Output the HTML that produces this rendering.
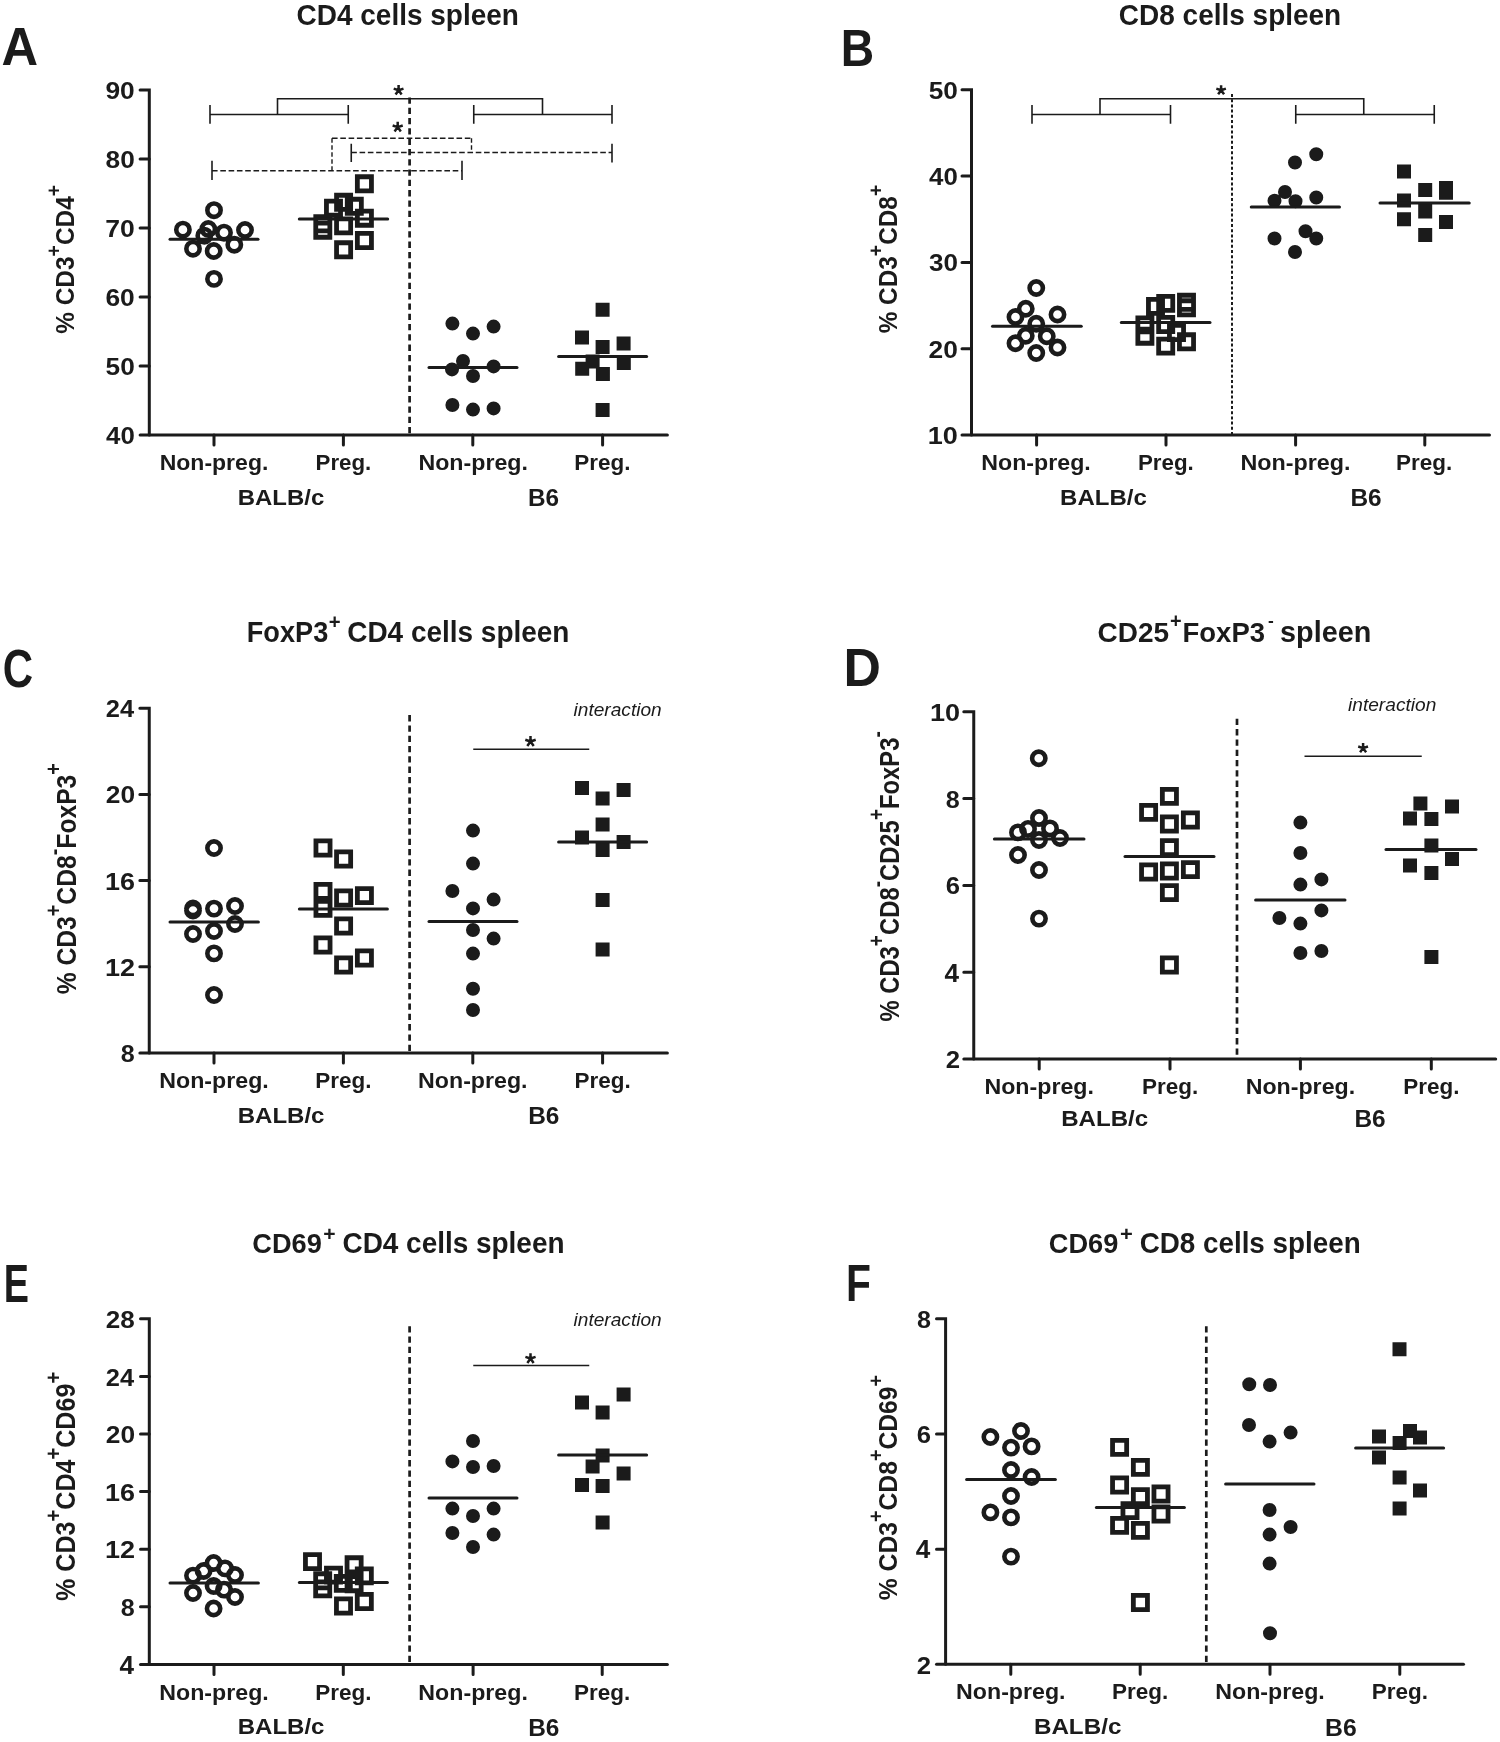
<!DOCTYPE html>
<html><head><meta charset="utf-8"><title>figure</title>
<style>
html,body{margin:0;padding:0;background:#fff;}
svg{display:block;will-change:transform;}
text{font-family:"Liberation Sans",sans-serif;font-kerning:none;}
</style></head>
<body>
<svg width="1500" height="1742" viewBox="0 0 1500 1742">
<rect width="1500" height="1742" fill="#fff"/>
<line x1="409.60" y1="97.40" x2="409.60" y2="435.10" stroke="#1b1b1b" stroke-width="2.70" stroke-linecap="butt" stroke-dasharray="6.3 4.0"/>
<line x1="1232.00" y1="94.00" x2="1232.00" y2="435.00" stroke="#1b1b1b" stroke-width="2.00" stroke-linecap="butt" stroke-dasharray="3 2.2"/>
<line x1="409.60" y1="715.10" x2="409.60" y2="1053.00" stroke="#1b1b1b" stroke-width="2.70" stroke-linecap="butt" stroke-dasharray="6.3 4.0"/>
<line x1="1237.00" y1="718.80" x2="1237.00" y2="1059.10" stroke="#1b1b1b" stroke-width="2.70" stroke-linecap="butt" stroke-dasharray="6.3 4.0"/>
<line x1="409.60" y1="1326.20" x2="409.60" y2="1664.40" stroke="#1b1b1b" stroke-width="2.70" stroke-linecap="butt" stroke-dasharray="6.3 4.0"/>
<line x1="1206.30" y1="1326.20" x2="1206.30" y2="1664.30" stroke="#1b1b1b" stroke-width="2.70" stroke-linecap="butt" stroke-dasharray="6.3 4.0"/>
<path d="M140.10 90.00H149.30V435.10" fill="none" stroke="#1b1b1b" stroke-width="3.00" stroke-linecap="round" stroke-linejoin="miter"/>
<path d="M140.10 435.10H667.40" fill="none" stroke="#1b1b1b" stroke-width="3.00" stroke-linecap="round"/>
<path d="M140.10 159.02H149.30M140.10 228.04H149.30M140.10 297.06H149.30M140.10 366.08H149.30M214.00 435.10V445.10M343.40 435.10V445.10M472.80 435.10V445.10M602.60 435.10V445.10" fill="none" stroke="#1b1b1b" stroke-width="3.00" stroke-linecap="round"/>
<path d="M207.35 210.20a6.65 6.65 0 1 0 13.30 0a6.65 6.65 0 1 0 -13.30 0ZM176.25 229.70a6.65 6.65 0 1 0 13.30 0a6.65 6.65 0 1 0 -13.30 0ZM201.65 229.00a6.65 6.65 0 1 0 13.30 0a6.65 6.65 0 1 0 -13.30 0ZM197.65 235.70a6.65 6.65 0 1 0 13.30 0a6.65 6.65 0 1 0 -13.30 0ZM217.35 232.70a6.65 6.65 0 1 0 13.30 0a6.65 6.65 0 1 0 -13.30 0ZM238.35 230.00a6.65 6.65 0 1 0 13.30 0a6.65 6.65 0 1 0 -13.30 0ZM186.35 248.70a6.65 6.65 0 1 0 13.30 0a6.65 6.65 0 1 0 -13.30 0ZM207.05 251.00a6.65 6.65 0 1 0 13.30 0a6.65 6.65 0 1 0 -13.30 0ZM227.65 244.70a6.65 6.65 0 1 0 13.30 0a6.65 6.65 0 1 0 -13.30 0ZM207.35 278.90a6.65 6.65 0 1 0 13.30 0a6.65 6.65 0 1 0 -13.30 0Z" fill="none" stroke="#1b1b1b" stroke-width="4.60"/>
<path d="M357.35 176.75h14.10v14.10h-14.10ZM326.45 201.15h14.10v14.10h-14.10ZM336.55 195.25h14.10v14.10h-14.10ZM347.25 199.25h14.10v14.10h-14.10ZM357.35 211.15h14.10v14.10h-14.10ZM336.55 218.85h14.10v14.10h-14.10ZM315.75 216.75h14.10v14.10h-14.10ZM315.75 223.15h14.10v14.10h-14.10ZM357.35 233.45h14.10v14.10h-14.10ZM336.55 242.75h14.10v14.10h-14.10Z" fill="none" stroke="#1b1b1b" stroke-width="4.80" stroke-linejoin="miter"/>
<path d="M445.40 323.60a7.00 7.00 0 1 0 14.00 0a7.00 7.00 0 1 0 -14.00 0ZM466.00 333.60a7.00 7.00 0 1 0 14.00 0a7.00 7.00 0 1 0 -14.00 0ZM486.60 326.60a7.00 7.00 0 1 0 14.00 0a7.00 7.00 0 1 0 -14.00 0ZM456.00 361.00a7.00 7.00 0 1 0 14.00 0a7.00 7.00 0 1 0 -14.00 0ZM445.00 369.40a7.00 7.00 0 1 0 14.00 0a7.00 7.00 0 1 0 -14.00 0ZM486.60 366.40a7.00 7.00 0 1 0 14.00 0a7.00 7.00 0 1 0 -14.00 0ZM466.00 376.00a7.00 7.00 0 1 0 14.00 0a7.00 7.00 0 1 0 -14.00 0ZM445.40 405.00a7.00 7.00 0 1 0 14.00 0a7.00 7.00 0 1 0 -14.00 0ZM466.00 409.60a7.00 7.00 0 1 0 14.00 0a7.00 7.00 0 1 0 -14.00 0ZM486.60 408.40a7.00 7.00 0 1 0 14.00 0a7.00 7.00 0 1 0 -14.00 0Z" fill="#1b1b1b"/>
<path d="M595.60 302.80h14.00v14.00h-14.00ZM575.00 330.40h14.00v14.00h-14.00ZM595.60 340.00h14.00v14.00h-14.00ZM616.60 336.60h14.00v14.00h-14.00ZM585.60 354.60h14.00v14.00h-14.00ZM575.20 361.70h14.00v14.00h-14.00ZM595.90 367.00h14.00v14.00h-14.00ZM616.80 356.10h14.00v14.00h-14.00ZM595.60 403.00h14.00v14.00h-14.00Z" fill="#1b1b1b"/>
<line x1="170.00" y1="239.30" x2="258.00" y2="239.30" stroke="#1b1b1b" stroke-width="3.00" stroke-linecap="round"/>
<line x1="299.30" y1="219.10" x2="387.70" y2="219.10" stroke="#1b1b1b" stroke-width="3.00" stroke-linecap="round"/>
<line x1="429.00" y1="367.60" x2="517.00" y2="367.60" stroke="#1b1b1b" stroke-width="3.00" stroke-linecap="round"/>
<line x1="558.60" y1="356.60" x2="646.60" y2="356.60" stroke="#1b1b1b" stroke-width="3.00" stroke-linecap="round"/>
<text transform="translate(106.40,99.01) scale(1.0778,1)" x="-0.85" y="0" font-size="24.43" font-weight="bold" font-style="normal" fill="#1b1b1b">90</text>
<text transform="translate(106.40,168.03) scale(1.0748,1)" x="-0.78" y="0" font-size="24.43" font-weight="bold" font-style="normal" fill="#1b1b1b">80</text>
<text transform="translate(106.40,237.05) scale(1.0865,1)" x="-1.05" y="0" font-size="24.43" font-weight="bold" font-style="normal" fill="#1b1b1b">70</text>
<text transform="translate(106.40,306.07) scale(1.0798,1)" x="-0.89" y="0" font-size="24.43" font-weight="bold" font-style="normal" fill="#1b1b1b">60</text>
<text transform="translate(106.40,375.09) scale(1.0737,1)" x="-0.75" y="0" font-size="24.43" font-weight="bold" font-style="normal" fill="#1b1b1b">50</text>
<text transform="translate(106.40,444.11) scale(1.0579,1)" x="-0.37" y="0" font-size="24.43" font-weight="bold" font-style="normal" fill="#1b1b1b">40</text>
<path d="M962.00 89.80H971.50V435.00" fill="none" stroke="#1b1b1b" stroke-width="3.00" stroke-linecap="round" stroke-linejoin="miter"/>
<path d="M962.00 435.00H1489.50" fill="none" stroke="#1b1b1b" stroke-width="3.00" stroke-linecap="round"/>
<path d="M962.00 176.10H971.50M962.00 262.40H971.50M962.00 348.70H971.50M1036.60 435.00V445.00M1166.00 435.00V445.00M1295.60 435.00V445.00M1424.80 435.00V445.00" fill="none" stroke="#1b1b1b" stroke-width="3.00" stroke-linecap="round"/>
<path d="M1029.60 288.00a6.65 6.65 0 1 0 13.30 0a6.65 6.65 0 1 0 -13.30 0ZM1019.10 308.75a6.65 6.65 0 1 0 13.30 0a6.65 6.65 0 1 0 -13.30 0ZM1008.85 317.00a6.65 6.65 0 1 0 13.30 0a6.65 6.65 0 1 0 -13.30 0ZM1050.85 314.50a6.65 6.65 0 1 0 13.30 0a6.65 6.65 0 1 0 -13.30 0ZM1029.60 323.75a6.65 6.65 0 1 0 13.30 0a6.65 6.65 0 1 0 -13.30 0ZM1019.10 335.75a6.65 6.65 0 1 0 13.30 0a6.65 6.65 0 1 0 -13.30 0ZM1040.10 336.25a6.65 6.65 0 1 0 13.30 0a6.65 6.65 0 1 0 -13.30 0ZM1008.85 343.25a6.65 6.65 0 1 0 13.30 0a6.65 6.65 0 1 0 -13.30 0ZM1050.85 347.50a6.65 6.65 0 1 0 13.30 0a6.65 6.65 0 1 0 -13.30 0ZM1029.60 353.00a6.65 6.65 0 1 0 13.30 0a6.65 6.65 0 1 0 -13.30 0Z" fill="none" stroke="#1b1b1b" stroke-width="4.60"/>
<path d="M1179.45 295.25h14.10v14.10h-14.10ZM1179.45 300.75h14.10v14.10h-14.10ZM1158.65 296.35h14.10v14.10h-14.10ZM1148.45 299.35h14.10v14.10h-14.10ZM1137.85 317.85h14.10v14.10h-14.10ZM1137.85 329.15h14.10v14.10h-14.10ZM1158.65 317.45h14.10v14.10h-14.10ZM1169.45 325.45h14.10v14.10h-14.10ZM1158.65 339.05h14.10v14.10h-14.10ZM1179.45 334.75h14.10v14.10h-14.10Z" fill="none" stroke="#1b1b1b" stroke-width="4.80" stroke-linejoin="miter"/>
<path d="M1309.25 154.25a7.00 7.00 0 1 0 14.00 0a7.00 7.00 0 1 0 -14.00 0ZM1288.00 162.50a7.00 7.00 0 1 0 14.00 0a7.00 7.00 0 1 0 -14.00 0ZM1278.00 192.00a7.00 7.00 0 1 0 14.00 0a7.00 7.00 0 1 0 -14.00 0ZM1267.50 200.75a7.00 7.00 0 1 0 14.00 0a7.00 7.00 0 1 0 -14.00 0ZM1288.50 201.25a7.00 7.00 0 1 0 14.00 0a7.00 7.00 0 1 0 -14.00 0ZM1309.25 197.50a7.00 7.00 0 1 0 14.00 0a7.00 7.00 0 1 0 -14.00 0ZM1267.50 238.50a7.00 7.00 0 1 0 14.00 0a7.00 7.00 0 1 0 -14.00 0ZM1298.50 231.25a7.00 7.00 0 1 0 14.00 0a7.00 7.00 0 1 0 -14.00 0ZM1309.25 238.50a7.00 7.00 0 1 0 14.00 0a7.00 7.00 0 1 0 -14.00 0ZM1288.00 252.00a7.00 7.00 0 1 0 14.00 0a7.00 7.00 0 1 0 -14.00 0Z" fill="#1b1b1b"/>
<path d="M1397.00 164.60h14.00v14.00h-14.00ZM1418.20 183.10h14.00v14.00h-14.00ZM1439.00 181.10h14.00v14.00h-14.00ZM1439.00 185.70h14.00v14.00h-14.00ZM1397.00 193.60h14.00v14.00h-14.00ZM1418.20 202.80h14.00v14.00h-14.00ZM1418.20 204.50h14.00v14.00h-14.00ZM1397.00 212.20h14.00v14.00h-14.00ZM1439.00 215.00h14.00v14.00h-14.00ZM1418.20 228.10h14.00v14.00h-14.00Z" fill="#1b1b1b"/>
<line x1="992.50" y1="326.25" x2="1081.25" y2="326.25" stroke="#1b1b1b" stroke-width="3.00" stroke-linecap="round"/>
<line x1="1121.30" y1="322.60" x2="1210.00" y2="322.60" stroke="#1b1b1b" stroke-width="3.00" stroke-linecap="round"/>
<line x1="1251.25" y1="207.00" x2="1339.50" y2="207.00" stroke="#1b1b1b" stroke-width="3.00" stroke-linecap="round"/>
<line x1="1380.00" y1="203.10" x2="1469.25" y2="203.10" stroke="#1b1b1b" stroke-width="3.00" stroke-linecap="round"/>
<text transform="translate(929.50,98.81) scale(1.0737,1)" x="-0.75" y="0" font-size="24.43" font-weight="bold" font-style="normal" fill="#1b1b1b">50</text>
<text transform="translate(929.50,185.11) scale(1.0579,1)" x="-0.37" y="0" font-size="24.43" font-weight="bold" font-style="normal" fill="#1b1b1b">40</text>
<text transform="translate(929.50,271.38) scale(1.0679,1)" x="-0.56" y="0" font-size="24.38" font-weight="bold" font-style="normal" fill="#1b1b1b">30</text>
<text transform="translate(929.50,357.71) scale(1.0778,1)" x="-0.85" y="0" font-size="24.43" font-weight="bold" font-style="normal" fill="#1b1b1b">20</text>
<text transform="translate(929.50,444.01) scale(1.1081,1)" x="-1.54" y="0" font-size="24.43" font-weight="bold" font-style="normal" fill="#1b1b1b">10</text>
<path d="M139.85 708.20H149.25V1053.00" fill="none" stroke="#1b1b1b" stroke-width="3.00" stroke-linecap="round" stroke-linejoin="miter"/>
<path d="M139.85 1053.00H667.40" fill="none" stroke="#1b1b1b" stroke-width="3.00" stroke-linecap="round"/>
<path d="M139.85 794.40H149.25M139.85 880.60H149.25M139.85 966.80H149.25M214.00 1053.00V1063.00M343.40 1053.00V1063.00M472.80 1053.00V1063.00M602.60 1053.00V1063.00" fill="none" stroke="#1b1b1b" stroke-width="3.00" stroke-linecap="round"/>
<path d="M207.35 848.00a6.65 6.65 0 1 0 13.30 0a6.65 6.65 0 1 0 -13.30 0ZM186.35 908.50a6.65 6.65 0 1 0 13.30 0a6.65 6.65 0 1 0 -13.30 0ZM186.35 910.50a6.65 6.65 0 1 0 13.30 0a6.65 6.65 0 1 0 -13.30 0ZM207.35 908.60a6.65 6.65 0 1 0 13.30 0a6.65 6.65 0 1 0 -13.30 0ZM228.35 906.00a6.65 6.65 0 1 0 13.30 0a6.65 6.65 0 1 0 -13.30 0ZM228.35 924.00a6.65 6.65 0 1 0 13.30 0a6.65 6.65 0 1 0 -13.30 0ZM186.35 934.00a6.65 6.65 0 1 0 13.30 0a6.65 6.65 0 1 0 -13.30 0ZM207.35 931.00a6.65 6.65 0 1 0 13.30 0a6.65 6.65 0 1 0 -13.30 0ZM207.35 953.40a6.65 6.65 0 1 0 13.30 0a6.65 6.65 0 1 0 -13.30 0ZM207.35 995.00a6.65 6.65 0 1 0 13.30 0a6.65 6.65 0 1 0 -13.30 0Z" fill="none" stroke="#1b1b1b" stroke-width="4.60"/>
<path d="M315.95 840.95h14.10v14.10h-14.10ZM336.55 851.95h14.10v14.10h-14.10ZM315.95 884.35h14.10v14.10h-14.10ZM315.95 901.35h14.10v14.10h-14.10ZM336.55 890.95h14.10v14.10h-14.10ZM357.35 888.55h14.10v14.10h-14.10ZM336.55 918.95h14.10v14.10h-14.10ZM315.95 937.95h14.10v14.10h-14.10ZM336.55 957.95h14.10v14.10h-14.10ZM357.35 950.95h14.10v14.10h-14.10Z" fill="none" stroke="#1b1b1b" stroke-width="4.80" stroke-linejoin="miter"/>
<path d="M466.00 830.60a7.00 7.00 0 1 0 14.00 0a7.00 7.00 0 1 0 -14.00 0ZM466.00 863.60a7.00 7.00 0 1 0 14.00 0a7.00 7.00 0 1 0 -14.00 0ZM445.40 891.00a7.00 7.00 0 1 0 14.00 0a7.00 7.00 0 1 0 -14.00 0ZM486.60 899.60a7.00 7.00 0 1 0 14.00 0a7.00 7.00 0 1 0 -14.00 0ZM466.00 908.40a7.00 7.00 0 1 0 14.00 0a7.00 7.00 0 1 0 -14.00 0ZM466.00 930.00a7.00 7.00 0 1 0 14.00 0a7.00 7.00 0 1 0 -14.00 0ZM486.60 938.60a7.00 7.00 0 1 0 14.00 0a7.00 7.00 0 1 0 -14.00 0ZM466.00 953.60a7.00 7.00 0 1 0 14.00 0a7.00 7.00 0 1 0 -14.00 0ZM466.00 988.80a7.00 7.00 0 1 0 14.00 0a7.00 7.00 0 1 0 -14.00 0ZM466.00 1010.00a7.00 7.00 0 1 0 14.00 0a7.00 7.00 0 1 0 -14.00 0Z" fill="#1b1b1b"/>
<path d="M575.00 781.00h14.00v14.00h-14.00ZM595.60 791.60h14.00v14.00h-14.00ZM616.60 783.00h14.00v14.00h-14.00ZM595.60 817.40h14.00v14.00h-14.00ZM575.00 830.60h14.00v14.00h-14.00ZM616.60 835.00h14.00v14.00h-14.00ZM595.60 843.00h14.00v14.00h-14.00ZM595.60 893.00h14.00v14.00h-14.00ZM595.60 942.60h14.00v14.00h-14.00Z" fill="#1b1b1b"/>
<line x1="170.00" y1="922.00" x2="258.40" y2="922.00" stroke="#1b1b1b" stroke-width="3.00" stroke-linecap="round"/>
<line x1="299.40" y1="909.00" x2="387.40" y2="909.00" stroke="#1b1b1b" stroke-width="3.00" stroke-linecap="round"/>
<line x1="429.00" y1="921.40" x2="517.00" y2="921.40" stroke="#1b1b1b" stroke-width="3.00" stroke-linecap="round"/>
<line x1="558.60" y1="842.00" x2="646.60" y2="842.00" stroke="#1b1b1b" stroke-width="3.00" stroke-linecap="round"/>
<text transform="translate(106.70,717.45) scale(1.0276,1)" x="-0.86" y="0" font-size="24.78" font-weight="bold" font-style="normal" fill="#1b1b1b">24</text>
<text transform="translate(106.70,803.41) scale(1.0778,1)" x="-0.85" y="0" font-size="24.43" font-weight="bold" font-style="normal" fill="#1b1b1b">20</text>
<text transform="translate(106.70,889.61) scale(1.1027,1)" x="-1.54" y="0" font-size="24.43" font-weight="bold" font-style="normal" fill="#1b1b1b">16</text>
<text transform="translate(106.70,976.05) scale(1.0917,1)" x="-1.56" y="0" font-size="24.78" font-weight="bold" font-style="normal" fill="#1b1b1b">12</text>
<text transform="translate(121.60,1062.01) scale(1.0280,1)" x="-0.78" y="0" font-size="24.43" font-weight="bold" font-style="normal" fill="#1b1b1b">8</text>
<path d="M963.80 711.80H973.75V1059.10" fill="none" stroke="#1b1b1b" stroke-width="3.00" stroke-linecap="round" stroke-linejoin="miter"/>
<path d="M963.80 1059.10H1495.70" fill="none" stroke="#1b1b1b" stroke-width="3.00" stroke-linecap="round"/>
<path d="M963.80 798.62H973.75M963.80 885.45H973.75M963.80 972.27H973.75M1039.20 1059.10V1069.10M1170.00 1059.10V1069.10M1300.40 1059.10V1069.10M1431.30 1059.10V1069.10" fill="none" stroke="#1b1b1b" stroke-width="3.00" stroke-linecap="round"/>
<path d="M1032.10 758.25a6.65 6.65 0 1 0 13.30 0a6.65 6.65 0 1 0 -13.30 0ZM1032.35 818.00a6.65 6.65 0 1 0 13.30 0a6.65 6.65 0 1 0 -13.30 0ZM1011.35 832.40a6.65 6.65 0 1 0 13.30 0a6.65 6.65 0 1 0 -13.30 0ZM1021.35 829.00a6.65 6.65 0 1 0 13.30 0a6.65 6.65 0 1 0 -13.30 0ZM1043.35 828.40a6.65 6.65 0 1 0 13.30 0a6.65 6.65 0 1 0 -13.30 0ZM1032.35 840.00a6.65 6.65 0 1 0 13.30 0a6.65 6.65 0 1 0 -13.30 0ZM1053.35 838.00a6.65 6.65 0 1 0 13.30 0a6.65 6.65 0 1 0 -13.30 0ZM1011.35 855.00a6.65 6.65 0 1 0 13.30 0a6.65 6.65 0 1 0 -13.30 0ZM1032.35 870.00a6.65 6.65 0 1 0 13.30 0a6.65 6.65 0 1 0 -13.30 0ZM1032.35 918.60a6.65 6.65 0 1 0 13.30 0a6.65 6.65 0 1 0 -13.30 0Z" fill="none" stroke="#1b1b1b" stroke-width="4.60"/>
<path d="M1162.35 789.35h14.10v14.10h-14.10ZM1141.55 805.35h14.10v14.10h-14.10ZM1162.35 816.95h14.10v14.10h-14.10ZM1183.35 812.95h14.10v14.10h-14.10ZM1162.35 840.55h14.10v14.10h-14.10ZM1141.55 864.95h14.10v14.10h-14.10ZM1162.35 863.95h14.10v14.10h-14.10ZM1183.35 862.55h14.10v14.10h-14.10ZM1162.35 885.55h14.10v14.10h-14.10ZM1162.35 957.95h14.10v14.10h-14.10Z" fill="none" stroke="#1b1b1b" stroke-width="4.80" stroke-linejoin="miter"/>
<path d="M1293.40 822.60a7.00 7.00 0 1 0 14.00 0a7.00 7.00 0 1 0 -14.00 0ZM1293.40 853.00a7.00 7.00 0 1 0 14.00 0a7.00 7.00 0 1 0 -14.00 0ZM1293.40 884.60a7.00 7.00 0 1 0 14.00 0a7.00 7.00 0 1 0 -14.00 0ZM1314.40 879.40a7.00 7.00 0 1 0 14.00 0a7.00 7.00 0 1 0 -14.00 0ZM1272.40 918.00a7.00 7.00 0 1 0 14.00 0a7.00 7.00 0 1 0 -14.00 0ZM1293.40 923.60a7.00 7.00 0 1 0 14.00 0a7.00 7.00 0 1 0 -14.00 0ZM1314.40 910.40a7.00 7.00 0 1 0 14.00 0a7.00 7.00 0 1 0 -14.00 0ZM1293.40 953.00a7.00 7.00 0 1 0 14.00 0a7.00 7.00 0 1 0 -14.00 0ZM1314.40 951.00a7.00 7.00 0 1 0 14.00 0a7.00 7.00 0 1 0 -14.00 0Z" fill="#1b1b1b"/>
<path d="M1413.40 796.40h14.00v14.00h-14.00ZM1445.00 799.40h14.00v14.00h-14.00ZM1403.00 811.40h14.00v14.00h-14.00ZM1424.40 812.00h14.00v14.00h-14.00ZM1424.40 838.60h14.00v14.00h-14.00ZM1403.00 858.60h14.00v14.00h-14.00ZM1445.00 852.00h14.00v14.00h-14.00ZM1424.40 866.00h14.00v14.00h-14.00ZM1424.40 950.00h14.00v14.00h-14.00Z" fill="#1b1b1b"/>
<line x1="994.40" y1="839.00" x2="1084.00" y2="839.00" stroke="#1b1b1b" stroke-width="3.00" stroke-linecap="round"/>
<line x1="1125.00" y1="856.60" x2="1214.00" y2="856.60" stroke="#1b1b1b" stroke-width="3.00" stroke-linecap="round"/>
<line x1="1255.60" y1="900.00" x2="1345.00" y2="900.00" stroke="#1b1b1b" stroke-width="3.00" stroke-linecap="round"/>
<line x1="1386.00" y1="849.40" x2="1476.00" y2="849.40" stroke="#1b1b1b" stroke-width="3.00" stroke-linecap="round"/>
<text transform="translate(931.70,720.81) scale(1.1081,1)" x="-1.54" y="0" font-size="24.43" font-weight="bold" font-style="normal" fill="#1b1b1b">10</text>
<text transform="translate(946.60,807.63) scale(1.0280,1)" x="-0.78" y="0" font-size="24.43" font-weight="bold" font-style="normal" fill="#1b1b1b">8</text>
<text transform="translate(946.60,894.46) scale(1.0498,1)" x="-0.89" y="0" font-size="24.43" font-weight="bold" font-style="normal" fill="#1b1b1b">6</text>
<text transform="translate(945.00,981.52) scale(1.0394,1)" x="-0.38" y="0" font-size="25.15" font-weight="bold" font-style="normal" fill="#1b1b1b">4</text>
<text transform="translate(946.60,1068.35) scale(1.0395,1)" x="-0.86" y="0" font-size="24.78" font-weight="bold" font-style="normal" fill="#1b1b1b">2</text>
<path d="M140.50 1318.80H149.30V1664.40" fill="none" stroke="#1b1b1b" stroke-width="3.00" stroke-linecap="round" stroke-linejoin="miter"/>
<path d="M140.50 1664.40H667.40" fill="none" stroke="#1b1b1b" stroke-width="3.00" stroke-linecap="round"/>
<path d="M140.50 1376.40H149.30M140.50 1434.00H149.30M140.50 1491.60H149.30M140.50 1549.20H149.30M140.50 1606.80H149.30M214.00 1664.40V1674.40M343.30 1664.40V1674.40M473.10 1664.40V1674.40M602.20 1664.40V1674.40" fill="none" stroke="#1b1b1b" stroke-width="3.00" stroke-linecap="round"/>
<path d="M206.95 1563.00a6.65 6.65 0 1 0 13.30 0a6.65 6.65 0 1 0 -13.30 0ZM196.95 1571.00a6.65 6.65 0 1 0 13.30 0a6.65 6.65 0 1 0 -13.30 0ZM186.35 1575.60a6.65 6.65 0 1 0 13.30 0a6.65 6.65 0 1 0 -13.30 0ZM218.35 1568.40a6.65 6.65 0 1 0 13.30 0a6.65 6.65 0 1 0 -13.30 0ZM228.35 1575.00a6.65 6.65 0 1 0 13.30 0a6.65 6.65 0 1 0 -13.30 0ZM206.95 1586.00a6.65 6.65 0 1 0 13.30 0a6.65 6.65 0 1 0 -13.30 0ZM217.35 1589.60a6.65 6.65 0 1 0 13.30 0a6.65 6.65 0 1 0 -13.30 0ZM186.35 1593.00a6.65 6.65 0 1 0 13.30 0a6.65 6.65 0 1 0 -13.30 0ZM228.35 1597.00a6.65 6.65 0 1 0 13.30 0a6.65 6.65 0 1 0 -13.30 0ZM206.95 1608.50a6.65 6.65 0 1 0 13.30 0a6.65 6.65 0 1 0 -13.30 0Z" fill="none" stroke="#1b1b1b" stroke-width="4.60"/>
<path d="M305.45 1554.55h14.10v14.10h-14.10ZM347.05 1557.75h14.10v14.10h-14.10ZM326.45 1568.05h14.10v14.10h-14.10ZM357.25 1568.85h14.10v14.10h-14.10ZM315.65 1573.75h14.10v14.10h-14.10ZM315.65 1581.85h14.10v14.10h-14.10ZM336.25 1576.35h14.10v14.10h-14.10ZM347.05 1576.65h14.10v14.10h-14.10ZM357.25 1594.45h14.10v14.10h-14.10ZM336.45 1598.95h14.10v14.10h-14.10Z" fill="none" stroke="#1b1b1b" stroke-width="4.80" stroke-linejoin="miter"/>
<path d="M466.00 1441.00a7.00 7.00 0 1 0 14.00 0a7.00 7.00 0 1 0 -14.00 0ZM445.40 1461.40a7.00 7.00 0 1 0 14.00 0a7.00 7.00 0 1 0 -14.00 0ZM466.00 1467.00a7.00 7.00 0 1 0 14.00 0a7.00 7.00 0 1 0 -14.00 0ZM486.60 1466.00a7.00 7.00 0 1 0 14.00 0a7.00 7.00 0 1 0 -14.00 0ZM445.40 1508.60a7.00 7.00 0 1 0 14.00 0a7.00 7.00 0 1 0 -14.00 0ZM466.00 1516.00a7.00 7.00 0 1 0 14.00 0a7.00 7.00 0 1 0 -14.00 0ZM486.60 1508.60a7.00 7.00 0 1 0 14.00 0a7.00 7.00 0 1 0 -14.00 0ZM445.40 1533.00a7.00 7.00 0 1 0 14.00 0a7.00 7.00 0 1 0 -14.00 0ZM486.60 1534.60a7.00 7.00 0 1 0 14.00 0a7.00 7.00 0 1 0 -14.00 0ZM466.00 1547.00a7.00 7.00 0 1 0 14.00 0a7.00 7.00 0 1 0 -14.00 0Z" fill="#1b1b1b"/>
<path d="M616.60 1387.40h14.00v14.00h-14.00ZM575.00 1395.40h14.00v14.00h-14.00ZM595.60 1405.60h14.00v14.00h-14.00ZM595.60 1448.60h14.00v14.00h-14.00ZM585.60 1459.40h14.00v14.00h-14.00ZM616.60 1466.40h14.00v14.00h-14.00ZM575.00 1478.00h14.00v14.00h-14.00ZM595.60 1479.00h14.00v14.00h-14.00ZM595.60 1515.40h14.00v14.00h-14.00Z" fill="#1b1b1b"/>
<line x1="170.00" y1="1583.00" x2="258.40" y2="1583.00" stroke="#1b1b1b" stroke-width="3.00" stroke-linecap="round"/>
<line x1="299.40" y1="1582.50" x2="387.40" y2="1582.50" stroke="#1b1b1b" stroke-width="3.00" stroke-linecap="round"/>
<line x1="429.00" y1="1498.00" x2="517.00" y2="1498.00" stroke="#1b1b1b" stroke-width="3.00" stroke-linecap="round"/>
<line x1="558.60" y1="1455.00" x2="646.60" y2="1455.00" stroke="#1b1b1b" stroke-width="3.00" stroke-linecap="round"/>
<text transform="translate(106.70,1327.81) scale(1.0672,1)" x="-0.85" y="0" font-size="24.43" font-weight="bold" font-style="normal" fill="#1b1b1b">28</text>
<text transform="translate(106.70,1385.65) scale(1.0276,1)" x="-0.86" y="0" font-size="24.78" font-weight="bold" font-style="normal" fill="#1b1b1b">24</text>
<text transform="translate(106.70,1443.01) scale(1.0778,1)" x="-0.85" y="0" font-size="24.43" font-weight="bold" font-style="normal" fill="#1b1b1b">20</text>
<text transform="translate(106.70,1500.61) scale(1.1027,1)" x="-1.54" y="0" font-size="24.43" font-weight="bold" font-style="normal" fill="#1b1b1b">16</text>
<text transform="translate(106.70,1558.45) scale(1.0917,1)" x="-1.56" y="0" font-size="24.78" font-weight="bold" font-style="normal" fill="#1b1b1b">12</text>
<text transform="translate(121.60,1615.81) scale(1.0280,1)" x="-0.78" y="0" font-size="24.43" font-weight="bold" font-style="normal" fill="#1b1b1b">8</text>
<text transform="translate(120.00,1673.65) scale(1.0394,1)" x="-0.38" y="0" font-size="25.15" font-weight="bold" font-style="normal" fill="#1b1b1b">4</text>
<path d="M936.50 1318.80H945.60V1664.30" fill="none" stroke="#1b1b1b" stroke-width="3.00" stroke-linecap="round" stroke-linejoin="miter"/>
<path d="M936.50 1664.30H1463.50" fill="none" stroke="#1b1b1b" stroke-width="3.00" stroke-linecap="round"/>
<path d="M936.50 1433.97H945.60M936.50 1549.13H945.60M1010.80 1664.30V1674.30M1140.20 1664.30V1674.30M1270.00 1664.30V1674.30M1399.80 1664.30V1674.30" fill="none" stroke="#1b1b1b" stroke-width="3.00" stroke-linecap="round"/>
<path d="M983.75 1437.00a6.65 6.65 0 1 0 13.30 0a6.65 6.65 0 1 0 -13.30 0ZM1014.35 1431.00a6.65 6.65 0 1 0 13.30 0a6.65 6.65 0 1 0 -13.30 0ZM1004.35 1447.60a6.65 6.65 0 1 0 13.30 0a6.65 6.65 0 1 0 -13.30 0ZM1024.95 1446.40a6.65 6.65 0 1 0 13.30 0a6.65 6.65 0 1 0 -13.30 0ZM1004.35 1470.00a6.65 6.65 0 1 0 13.30 0a6.65 6.65 0 1 0 -13.30 0ZM1024.95 1477.00a6.65 6.65 0 1 0 13.30 0a6.65 6.65 0 1 0 -13.30 0ZM1004.35 1496.00a6.65 6.65 0 1 0 13.30 0a6.65 6.65 0 1 0 -13.30 0ZM983.75 1512.40a6.65 6.65 0 1 0 13.30 0a6.65 6.65 0 1 0 -13.30 0ZM1004.35 1517.40a6.65 6.65 0 1 0 13.30 0a6.65 6.65 0 1 0 -13.30 0ZM1004.35 1556.60a6.65 6.65 0 1 0 13.30 0a6.65 6.65 0 1 0 -13.30 0Z" fill="none" stroke="#1b1b1b" stroke-width="4.60"/>
<path d="M1112.55 1440.35h14.10v14.10h-14.10ZM1133.35 1460.35h14.10v14.10h-14.10ZM1112.55 1477.95h14.10v14.10h-14.10ZM1133.35 1489.55h14.10v14.10h-14.10ZM1153.95 1486.95h14.10v14.10h-14.10ZM1122.95 1503.55h14.10v14.10h-14.10ZM1153.95 1506.95h14.10v14.10h-14.10ZM1112.55 1518.35h14.10v14.10h-14.10ZM1133.35 1523.35h14.10v14.10h-14.10ZM1133.35 1595.45h14.10v14.10h-14.10Z" fill="none" stroke="#1b1b1b" stroke-width="4.80" stroke-linejoin="miter"/>
<path d="M1242.25 1384.25a7.00 7.00 0 1 0 14.00 0a7.00 7.00 0 1 0 -14.00 0ZM1263.00 1385.00a7.00 7.00 0 1 0 14.00 0a7.00 7.00 0 1 0 -14.00 0ZM1242.00 1425.00a7.00 7.00 0 1 0 14.00 0a7.00 7.00 0 1 0 -14.00 0ZM1283.60 1432.60a7.00 7.00 0 1 0 14.00 0a7.00 7.00 0 1 0 -14.00 0ZM1262.60 1441.60a7.00 7.00 0 1 0 14.00 0a7.00 7.00 0 1 0 -14.00 0ZM1262.60 1510.00a7.00 7.00 0 1 0 14.00 0a7.00 7.00 0 1 0 -14.00 0ZM1283.60 1527.00a7.00 7.00 0 1 0 14.00 0a7.00 7.00 0 1 0 -14.00 0ZM1262.60 1534.60a7.00 7.00 0 1 0 14.00 0a7.00 7.00 0 1 0 -14.00 0ZM1262.60 1563.60a7.00 7.00 0 1 0 14.00 0a7.00 7.00 0 1 0 -14.00 0ZM1263.00 1633.20a7.00 7.00 0 1 0 14.00 0a7.00 7.00 0 1 0 -14.00 0Z" fill="#1b1b1b"/>
<path d="M1392.50 1342.25h14.00v14.00h-14.00ZM1372.00 1429.60h14.00v14.00h-14.00ZM1403.00 1424.00h14.00v14.00h-14.00ZM1413.00 1430.60h14.00v14.00h-14.00ZM1392.60 1436.00h14.00v14.00h-14.00ZM1372.00 1450.60h14.00v14.00h-14.00ZM1392.60 1470.40h14.00v14.00h-14.00ZM1413.00 1483.40h14.00v14.00h-14.00ZM1392.60 1501.60h14.00v14.00h-14.00Z" fill="#1b1b1b"/>
<line x1="966.60" y1="1479.40" x2="1055.40" y2="1479.40" stroke="#1b1b1b" stroke-width="3.00" stroke-linecap="round"/>
<line x1="1096.40" y1="1507.60" x2="1184.40" y2="1507.60" stroke="#1b1b1b" stroke-width="3.00" stroke-linecap="round"/>
<line x1="1225.60" y1="1484.00" x2="1314.00" y2="1484.00" stroke="#1b1b1b" stroke-width="3.00" stroke-linecap="round"/>
<line x1="1355.60" y1="1448.00" x2="1443.60" y2="1448.00" stroke="#1b1b1b" stroke-width="3.00" stroke-linecap="round"/>
<text transform="translate(917.70,1327.81) scale(1.0280,1)" x="-0.78" y="0" font-size="24.43" font-weight="bold" font-style="normal" fill="#1b1b1b">8</text>
<text transform="translate(917.70,1442.98) scale(1.0498,1)" x="-0.89" y="0" font-size="24.43" font-weight="bold" font-style="normal" fill="#1b1b1b">6</text>
<text transform="translate(916.10,1558.38) scale(1.0394,1)" x="-0.38" y="0" font-size="25.15" font-weight="bold" font-style="normal" fill="#1b1b1b">4</text>
<text transform="translate(917.70,1673.55) scale(1.0395,1)" x="-0.86" y="0" font-size="24.78" font-weight="bold" font-style="normal" fill="#1b1b1b">2</text>
<line x1="210.00" y1="114.50" x2="348.25" y2="114.50" stroke="#1b1b1b" stroke-width="1.60" stroke-linecap="butt"/>
<line x1="210.00" y1="105.00" x2="210.00" y2="123.75" stroke="#1b1b1b" stroke-width="1.60" stroke-linecap="butt"/>
<line x1="348.25" y1="105.00" x2="348.25" y2="123.75" stroke="#1b1b1b" stroke-width="1.60" stroke-linecap="butt"/>
<line x1="473.75" y1="114.50" x2="612.00" y2="114.50" stroke="#1b1b1b" stroke-width="1.60" stroke-linecap="butt"/>
<line x1="473.75" y1="105.00" x2="473.75" y2="123.75" stroke="#1b1b1b" stroke-width="1.60" stroke-linecap="butt"/>
<line x1="612.00" y1="105.00" x2="612.00" y2="123.75" stroke="#1b1b1b" stroke-width="1.60" stroke-linecap="butt"/>
<line x1="277.50" y1="98.75" x2="542.50" y2="98.75" stroke="#1b1b1b" stroke-width="1.60" stroke-linecap="butt"/>
<line x1="277.50" y1="98.00" x2="277.50" y2="114.50" stroke="#1b1b1b" stroke-width="1.60" stroke-linecap="butt"/>
<line x1="542.50" y1="98.00" x2="542.50" y2="114.50" stroke="#1b1b1b" stroke-width="1.60" stroke-linecap="butt"/>
<line x1="212.00" y1="170.75" x2="462.00" y2="170.75" stroke="#1b1b1b" stroke-width="1.40" stroke-linecap="butt" stroke-dasharray="5.6 2.7"/>
<line x1="212.00" y1="160.75" x2="212.00" y2="180.00" stroke="#1b1b1b" stroke-width="1.60" stroke-linecap="butt"/>
<line x1="462.00" y1="160.75" x2="462.00" y2="180.00" stroke="#1b1b1b" stroke-width="1.60" stroke-linecap="butt"/>
<line x1="351.25" y1="152.50" x2="612.00" y2="152.50" stroke="#1b1b1b" stroke-width="1.40" stroke-linecap="butt" stroke-dasharray="5.6 2.7"/>
<line x1="351.25" y1="143.75" x2="351.25" y2="162.00" stroke="#1b1b1b" stroke-width="1.60" stroke-linecap="butt"/>
<line x1="612.00" y1="143.75" x2="612.00" y2="162.50" stroke="#1b1b1b" stroke-width="1.60" stroke-linecap="butt"/>
<line x1="332.00" y1="138.25" x2="471.50" y2="138.25" stroke="#1b1b1b" stroke-width="1.40" stroke-linecap="butt" stroke-dasharray="5.6 2.7"/>
<line x1="332.00" y1="138.25" x2="332.00" y2="170.75" stroke="#1b1b1b" stroke-width="1.40" stroke-linecap="butt" stroke-dasharray="4.5 2.5"/>
<line x1="471.50" y1="138.25" x2="471.50" y2="152.50" stroke="#1b1b1b" stroke-width="1.40" stroke-linecap="butt" stroke-dasharray="4.5 2.5"/>
<path d="M398.60 90.24L398.60 85.10M398.60 90.24L403.49 88.65M398.60 90.24L401.62 94.40M398.60 90.24L395.58 94.40M398.60 90.24L393.71 88.65" stroke="#1b1b1b" stroke-width="2.50" fill="none"/>
<path d="M397.70 127.11L397.70 121.80M397.70 127.11L402.75 125.47M397.70 127.11L400.82 131.40M397.70 127.11L394.58 131.40M397.70 127.11L392.65 125.47" stroke="#1b1b1b" stroke-width="2.50" fill="none"/>
<line x1="1032.00" y1="114.50" x2="1170.50" y2="114.50" stroke="#1b1b1b" stroke-width="1.60" stroke-linecap="butt"/>
<line x1="1032.00" y1="105.00" x2="1032.00" y2="123.75" stroke="#1b1b1b" stroke-width="1.60" stroke-linecap="butt"/>
<line x1="1170.50" y1="105.00" x2="1170.50" y2="123.75" stroke="#1b1b1b" stroke-width="1.60" stroke-linecap="butt"/>
<line x1="1295.75" y1="114.50" x2="1434.25" y2="114.50" stroke="#1b1b1b" stroke-width="1.60" stroke-linecap="butt"/>
<line x1="1295.75" y1="105.00" x2="1295.75" y2="123.75" stroke="#1b1b1b" stroke-width="1.60" stroke-linecap="butt"/>
<line x1="1434.25" y1="105.00" x2="1434.25" y2="123.75" stroke="#1b1b1b" stroke-width="1.60" stroke-linecap="butt"/>
<line x1="1100.00" y1="98.75" x2="1363.75" y2="98.75" stroke="#1b1b1b" stroke-width="1.60" stroke-linecap="butt"/>
<line x1="1100.00" y1="98.00" x2="1100.00" y2="114.50" stroke="#1b1b1b" stroke-width="1.60" stroke-linecap="butt"/>
<line x1="1363.75" y1="98.00" x2="1363.75" y2="114.50" stroke="#1b1b1b" stroke-width="1.60" stroke-linecap="butt"/>
<path d="M1221.10 90.23L1221.10 85.20M1221.10 90.23L1225.88 88.68M1221.10 90.23L1224.06 94.30M1221.10 90.23L1218.14 94.30M1221.10 90.23L1216.32 88.68" stroke="#1b1b1b" stroke-width="2.50" fill="none"/>
<line x1="473.25" y1="749.25" x2="589.25" y2="749.25" stroke="#1b1b1b" stroke-width="1.60" stroke-linecap="butt"/>
<path d="M530.50 741.47L530.50 736.00M530.50 741.47L535.70 739.78M530.50 741.47L533.72 745.90M530.50 741.47L527.28 745.90M530.50 741.47L525.30 739.78" stroke="#1b1b1b" stroke-width="2.50" fill="none"/>
<line x1="1304.50" y1="756.25" x2="1421.75" y2="756.25" stroke="#1b1b1b" stroke-width="1.60" stroke-linecap="butt"/>
<path d="M1363.10 748.14L1363.10 743.00M1363.10 748.14L1367.99 746.55M1363.10 748.14L1366.12 752.30M1363.10 748.14L1360.08 752.30M1363.10 748.14L1358.21 746.55" stroke="#1b1b1b" stroke-width="2.50" fill="none"/>
<line x1="473.25" y1="1365.50" x2="589.25" y2="1365.50" stroke="#1b1b1b" stroke-width="1.60" stroke-linecap="butt"/>
<path d="M530.50 1358.56L530.50 1353.20M530.50 1358.56L535.60 1356.91M530.50 1358.56L533.65 1362.90M530.50 1358.56L527.35 1362.90M530.50 1358.56L525.40 1356.91" stroke="#1b1b1b" stroke-width="2.50" fill="none"/>
<text transform="translate(573.80,715.50) scale(1.0747,1)" x="-0.29" y="0" font-size="17.80" font-weight="normal" font-style="italic" fill="#1b1b1b">interaction</text>
<text transform="translate(1348.30,710.90) scale(1.0677,1)" x="-0.29" y="0" font-size="17.94" font-weight="normal" font-style="italic" fill="#1b1b1b">interaction</text>
<text transform="translate(573.80,1326.30) scale(1.0747,1)" x="-0.29" y="0" font-size="17.80" font-weight="normal" font-style="italic" fill="#1b1b1b">interaction</text>
<text transform="translate(2.80,64.80) scale(0.9526,1)" x="-1.32" y="0" font-size="53.20" font-weight="bold" font-style="normal" fill="#1b1b1b">A</text>
<text transform="translate(843.80,65.50) scale(0.8837,1)" x="-3.50" y="0" font-size="52.33" font-weight="bold" font-style="normal" fill="#1b1b1b">B</text>
<text transform="translate(4.50,686.50) scale(0.7938,1)" x="-2.17" y="0" font-size="52.99" font-weight="bold" font-style="normal" fill="#1b1b1b">C</text>
<text transform="translate(847.00,686.30) scale(0.9827,1)" x="-3.53" y="0" font-size="52.76" font-weight="bold" font-style="normal" fill="#1b1b1b">D</text>
<text transform="translate(6.30,1301.60) scale(0.7103,1)" x="-3.56" y="0" font-size="53.20" font-weight="bold" font-style="normal" fill="#1b1b1b">E</text>
<text transform="translate(848.80,1301.30) scale(0.7841,1)" x="-3.48" y="0" font-size="52.04" font-weight="bold" font-style="normal" fill="#1b1b1b">F</text>
<text transform="translate(297.70,24.80) scale(0.9300,1)" x="-1.23" y="0" font-size="30.09" font-weight="bold" font-style="normal" fill="#1b1b1b">CD4 cells spleen</text>
<text transform="translate(1120.00,24.80) scale(0.9300,1)" x="-1.23" y="0" font-size="30.09" font-weight="bold" font-style="normal" fill="#1b1b1b">CD8 cells spleen</text>
<text transform="translate(248.60,642.00) scale(0.9481,1)" x="-1.92" y="0" font-size="28.64" font-weight="bold" font-style="normal" fill="#1b1b1b">FoxP3</text>
<text transform="translate(329.60,629.28) scale(1.0127,1)" x="-0.84" y="0" font-size="20.09" font-weight="bold" font-style="normal" fill="#1b1b1b">+</text>
<text transform="translate(348.40,642.00) scale(0.9207,1)" x="-1.25" y="0" font-size="30.36" font-weight="bold" font-style="normal" fill="#1b1b1b">CD4 cells spleen</text>
<text transform="translate(1098.70,641.80) scale(0.9866,1)" x="-1.16" y="0" font-size="28.36" font-weight="bold" font-style="normal" fill="#1b1b1b">CD25</text>
<text transform="translate(1170.90,627.61) scale(0.9737,1)" x="-0.86" y="0" font-size="20.48" font-weight="bold" font-style="normal" fill="#1b1b1b">+</text>
<text transform="translate(1184.40,641.80) scale(0.9686,1)" x="-1.90" y="0" font-size="28.36" font-weight="bold" font-style="normal" fill="#1b1b1b">FoxP3</text>
<text transform="translate(1268.60,625.65) scale(1.0323,1)" x="-0.66" y="0" font-size="16.79" font-weight="bold" font-style="normal" fill="#1b1b1b">-</text>
<text transform="translate(1281.10,641.80) scale(0.9569,1)" x="-1.06" y="0" font-size="30.09" font-weight="bold" font-style="normal" fill="#1b1b1b">spleen</text>
<text transform="translate(253.40,1253.00) scale(0.9702,1)" x="-1.15" y="0" font-size="28.07" font-weight="bold" font-style="normal" fill="#1b1b1b">CD69</text>
<text transform="translate(324.20,1241.04) scale(1.0127,1)" x="-0.88" y="0" font-size="20.87" font-weight="bold" font-style="normal" fill="#1b1b1b">+</text>
<text transform="translate(343.60,1253.00) scale(0.9377,1)" x="-1.22" y="0" font-size="29.81" font-weight="bold" font-style="normal" fill="#1b1b1b">CD4 cells spleen</text>
<text transform="translate(1049.90,1253.00) scale(0.9702,1)" x="-1.15" y="0" font-size="28.07" font-weight="bold" font-style="normal" fill="#1b1b1b">CD69</text>
<text transform="translate(1121.00,1241.04) scale(1.0509,1)" x="-0.88" y="0" font-size="20.87" font-weight="bold" font-style="normal" fill="#1b1b1b">+</text>
<text transform="translate(1140.80,1253.00) scale(0.9330,1)" x="-1.22" y="0" font-size="29.81" font-weight="bold" font-style="normal" fill="#1b1b1b">CD8 cells spleen</text>
<text transform="translate(161.20,470.20) scale(1.0221,1)" x="-1.51" y="0" font-size="22.53" font-weight="bold" font-style="normal" fill="#1b1b1b">Non-preg.</text>
<text transform="translate(317.00,470.20) scale(0.9909,1)" x="-1.51" y="0" font-size="22.53" font-weight="bold" font-style="normal" fill="#1b1b1b">Preg.</text>
<text transform="translate(420.00,470.20) scale(1.0298,1)" x="-1.51" y="0" font-size="22.53" font-weight="bold" font-style="normal" fill="#1b1b1b">Non-preg.</text>
<text transform="translate(575.80,470.20) scale(0.9984,1)" x="-1.51" y="0" font-size="22.53" font-weight="bold" font-style="normal" fill="#1b1b1b">Preg.</text>
<text transform="translate(239.30,505.10) scale(1.0532,1)" x="-1.52" y="0" font-size="22.77" font-weight="bold" font-style="normal" fill="#1b1b1b">BALB/c</text>
<text transform="translate(529.60,506.30) scale(1.0298,1)" x="-1.58" y="0" font-size="23.63" font-weight="bold" font-style="normal" fill="#1b1b1b">B6</text>
<text transform="translate(982.80,470.10) scale(1.0298,1)" x="-1.51" y="0" font-size="22.53" font-weight="bold" font-style="normal" fill="#1b1b1b">Non-preg.</text>
<text transform="translate(1139.40,470.10) scale(0.9927,1)" x="-1.51" y="0" font-size="22.53" font-weight="bold" font-style="normal" fill="#1b1b1b">Preg.</text>
<text transform="translate(1242.00,470.10) scale(1.0356,1)" x="-1.51" y="0" font-size="22.53" font-weight="bold" font-style="normal" fill="#1b1b1b">Non-preg.</text>
<text transform="translate(1397.60,470.10) scale(0.9984,1)" x="-1.51" y="0" font-size="22.53" font-weight="bold" font-style="normal" fill="#1b1b1b">Preg.</text>
<text transform="translate(1061.70,505.00) scale(1.0544,1)" x="-1.52" y="0" font-size="22.77" font-weight="bold" font-style="normal" fill="#1b1b1b">BALB/c</text>
<text transform="translate(1352.10,506.20) scale(1.0334,1)" x="-1.58" y="0" font-size="23.63" font-weight="bold" font-style="normal" fill="#1b1b1b">B6</text>
<text transform="translate(160.80,1088.10) scale(1.0298,1)" x="-1.51" y="0" font-size="22.53" font-weight="bold" font-style="normal" fill="#1b1b1b">Non-preg.</text>
<text transform="translate(316.80,1088.10) scale(0.9984,1)" x="-1.51" y="0" font-size="22.53" font-weight="bold" font-style="normal" fill="#1b1b1b">Preg.</text>
<text transform="translate(419.60,1088.10) scale(1.0298,1)" x="-1.51" y="0" font-size="22.53" font-weight="bold" font-style="normal" fill="#1b1b1b">Non-preg.</text>
<text transform="translate(576.00,1088.10) scale(0.9984,1)" x="-1.51" y="0" font-size="22.53" font-weight="bold" font-style="normal" fill="#1b1b1b">Preg.</text>
<text transform="translate(239.30,1123.00) scale(1.0557,1)" x="-1.52" y="0" font-size="22.77" font-weight="bold" font-style="normal" fill="#1b1b1b">BALB/c</text>
<text transform="translate(529.80,1124.20) scale(1.0334,1)" x="-1.58" y="0" font-size="23.63" font-weight="bold" font-style="normal" fill="#1b1b1b">B6</text>
<text transform="translate(986.00,1094.20) scale(1.0298,1)" x="-1.51" y="0" font-size="22.53" font-weight="bold" font-style="normal" fill="#1b1b1b">Non-preg.</text>
<text transform="translate(1143.40,1094.20) scale(0.9984,1)" x="-1.51" y="0" font-size="22.53" font-weight="bold" font-style="normal" fill="#1b1b1b">Preg.</text>
<text transform="translate(1247.20,1094.20) scale(1.0298,1)" x="-1.51" y="0" font-size="22.53" font-weight="bold" font-style="normal" fill="#1b1b1b">Non-preg.</text>
<text transform="translate(1404.70,1094.20) scale(0.9984,1)" x="-1.51" y="0" font-size="22.53" font-weight="bold" font-style="normal" fill="#1b1b1b">Preg.</text>
<text transform="translate(1062.80,1126.10) scale(1.0582,1)" x="-1.52" y="0" font-size="22.77" font-weight="bold" font-style="normal" fill="#1b1b1b">BALB/c</text>
<text transform="translate(1356.10,1126.70) scale(1.0334,1)" x="-1.58" y="0" font-size="23.63" font-weight="bold" font-style="normal" fill="#1b1b1b">B6</text>
<text transform="translate(160.80,1699.50) scale(1.0298,1)" x="-1.51" y="0" font-size="22.53" font-weight="bold" font-style="normal" fill="#1b1b1b">Non-preg.</text>
<text transform="translate(316.70,1699.50) scale(0.9984,1)" x="-1.51" y="0" font-size="22.53" font-weight="bold" font-style="normal" fill="#1b1b1b">Preg.</text>
<text transform="translate(419.90,1699.50) scale(1.0298,1)" x="-1.51" y="0" font-size="22.53" font-weight="bold" font-style="normal" fill="#1b1b1b">Non-preg.</text>
<text transform="translate(575.60,1699.50) scale(0.9984,1)" x="-1.51" y="0" font-size="22.53" font-weight="bold" font-style="normal" fill="#1b1b1b">Preg.</text>
<text transform="translate(239.30,1734.40) scale(1.0557,1)" x="-1.52" y="0" font-size="22.77" font-weight="bold" font-style="normal" fill="#1b1b1b">BALB/c</text>
<text transform="translate(529.80,1735.60) scale(1.0334,1)" x="-1.58" y="0" font-size="23.63" font-weight="bold" font-style="normal" fill="#1b1b1b">B6</text>
<text transform="translate(957.60,1699.40) scale(1.0298,1)" x="-1.51" y="0" font-size="22.53" font-weight="bold" font-style="normal" fill="#1b1b1b">Non-preg.</text>
<text transform="translate(1113.60,1699.40) scale(0.9984,1)" x="-1.51" y="0" font-size="22.53" font-weight="bold" font-style="normal" fill="#1b1b1b">Preg.</text>
<text transform="translate(1216.80,1699.40) scale(1.0298,1)" x="-1.51" y="0" font-size="22.53" font-weight="bold" font-style="normal" fill="#1b1b1b">Non-preg.</text>
<text transform="translate(1373.20,1699.40) scale(0.9984,1)" x="-1.51" y="0" font-size="22.53" font-weight="bold" font-style="normal" fill="#1b1b1b">Preg.</text>
<text transform="translate(1035.50,1734.30) scale(1.0644,1)" x="-1.52" y="0" font-size="22.77" font-weight="bold" font-style="normal" fill="#1b1b1b">BALB/c</text>
<text transform="translate(1326.70,1735.50) scale(1.0478,1)" x="-1.58" y="0" font-size="23.63" font-weight="bold" font-style="normal" fill="#1b1b1b">B6</text>
<text transform="translate(74.10,333.20) rotate(-90) scale(0.9551,1)" x="-0.64" y="-0.00" font-size="25.58" font-weight="bold" fill="#1b1b1b">% CD3</text>
<text transform="translate(74.10,333.20) rotate(-90) scale(0.9551,1)" x="80.39" y="-13.38" font-size="20.47" font-weight="bold" fill="#1b1b1b">+</text>
<text transform="translate(74.10,333.20) rotate(-90) scale(0.9551,1)" x="92.34" y="-0.00" font-size="25.58" font-weight="bold" fill="#1b1b1b">CD4</text>
<text transform="translate(74.10,333.20) rotate(-90) scale(0.9551,1)" x="143.52" y="-13.38" font-size="20.47" font-weight="bold" fill="#1b1b1b">+</text>
<text transform="translate(896.70,332.70) rotate(-90) scale(0.9519,1)" x="-0.64" y="-0.00" font-size="25.58" font-weight="bold" fill="#1b1b1b">% CD3</text>
<text transform="translate(896.70,332.70) rotate(-90) scale(0.9519,1)" x="80.39" y="-13.38" font-size="20.47" font-weight="bold" fill="#1b1b1b">+</text>
<text transform="translate(896.70,332.70) rotate(-90) scale(0.9519,1)" x="92.34" y="-0.00" font-size="25.58" font-weight="bold" fill="#1b1b1b">CD8</text>
<text transform="translate(896.70,332.70) rotate(-90) scale(0.9519,1)" x="143.52" y="-13.38" font-size="20.47" font-weight="bold" fill="#1b1b1b">+</text>
<text transform="translate(75.80,993.70) rotate(-90) scale(0.8751,1)" x="-0.70" y="-0.00" font-size="28.20" font-weight="bold" fill="#1b1b1b">% CD3</text>
<text transform="translate(75.80,993.70) rotate(-90) scale(0.8751,1)" x="88.61" y="-14.75" font-size="22.56" font-weight="bold" fill="#1b1b1b">+</text>
<text transform="translate(75.80,993.70) rotate(-90) scale(0.8751,1)" x="101.79" y="-0.00" font-size="28.20" font-weight="bold" fill="#1b1b1b">CD8</text>
<text transform="translate(75.80,993.70) rotate(-90) scale(0.8751,1)" x="158.20" y="-14.75" font-size="22.56" font-weight="bold" fill="#1b1b1b">-</text>
<text transform="translate(75.80,993.70) rotate(-90) scale(0.8751,1)" x="165.71" y="-0.00" font-size="28.20" font-weight="bold" fill="#1b1b1b">FoxP3</text>
<text transform="translate(75.80,993.70) rotate(-90) scale(0.8751,1)" x="250.33" y="-14.75" font-size="22.56" font-weight="bold" fill="#1b1b1b">+</text>
<text transform="translate(898.50,1021.00) rotate(-90) scale(0.8536,1)" x="-0.69" y="-0.00" font-size="27.91" font-weight="bold" fill="#1b1b1b">% CD3</text>
<text transform="translate(898.50,1021.00) rotate(-90) scale(0.8536,1)" x="87.70" y="-14.60" font-size="22.33" font-weight="bold" fill="#1b1b1b">+</text>
<text transform="translate(898.50,1021.00) rotate(-90) scale(0.8536,1)" x="100.74" y="-0.00" font-size="27.91" font-weight="bold" fill="#1b1b1b">CD8</text>
<text transform="translate(898.50,1021.00) rotate(-90) scale(0.8536,1)" x="156.57" y="-14.60" font-size="22.33" font-weight="bold" fill="#1b1b1b">-</text>
<text transform="translate(898.50,1021.00) rotate(-90) scale(0.8536,1)" x="164.00" y="-0.00" font-size="27.91" font-weight="bold" fill="#1b1b1b">CD25</text>
<text transform="translate(898.50,1021.00) rotate(-90) scale(0.8536,1)" x="235.35" y="-14.60" font-size="22.33" font-weight="bold" fill="#1b1b1b">+</text>
<text transform="translate(898.50,1021.00) rotate(-90) scale(0.8536,1)" x="248.39" y="-0.00" font-size="27.91" font-weight="bold" fill="#1b1b1b">FoxP3</text>
<text transform="translate(898.50,1021.00) rotate(-90) scale(0.8536,1)" x="332.14" y="-14.60" font-size="22.33" font-weight="bold" fill="#1b1b1b">-</text>
<text transform="translate(75.10,1600.30) rotate(-90) scale(0.9384,1)" x="-0.67" y="-0.00" font-size="26.74" font-weight="bold" fill="#1b1b1b">% CD3</text>
<text transform="translate(75.10,1600.30) rotate(-90) scale(0.9384,1)" x="84.05" y="-13.99" font-size="21.40" font-weight="bold" fill="#1b1b1b">+</text>
<text transform="translate(75.10,1600.30) rotate(-90) scale(0.9384,1)" x="96.54" y="-0.00" font-size="26.74" font-weight="bold" fill="#1b1b1b">CD4</text>
<text transform="translate(75.10,1600.30) rotate(-90) scale(0.9384,1)" x="150.04" y="-13.99" font-size="21.40" font-weight="bold" fill="#1b1b1b">+</text>
<text transform="translate(75.10,1600.30) rotate(-90) scale(0.9384,1)" x="162.54" y="-0.00" font-size="26.74" font-weight="bold" fill="#1b1b1b">CD69</text>
<text transform="translate(75.10,1600.30) rotate(-90) scale(0.9384,1)" x="230.92" y="-13.99" font-size="21.40" font-weight="bold" fill="#1b1b1b">+</text>
<text transform="translate(896.60,1599.60) rotate(-90) scale(0.9489,1)" x="-0.65" y="-0.00" font-size="26.02" font-weight="bold" fill="#1b1b1b">% CD3</text>
<text transform="translate(896.60,1599.60) rotate(-90) scale(0.9489,1)" x="81.76" y="-13.61" font-size="20.81" font-weight="bold" fill="#1b1b1b">+</text>
<text transform="translate(896.60,1599.60) rotate(-90) scale(0.9489,1)" x="93.92" y="-0.00" font-size="26.02" font-weight="bold" fill="#1b1b1b">CD8</text>
<text transform="translate(896.60,1599.60) rotate(-90) scale(0.9489,1)" x="145.97" y="-13.61" font-size="20.81" font-weight="bold" fill="#1b1b1b">+</text>
<text transform="translate(896.60,1599.60) rotate(-90) scale(0.9489,1)" x="158.12" y="-0.00" font-size="26.02" font-weight="bold" fill="#1b1b1b">CD69</text>
<text transform="translate(896.60,1599.60) rotate(-90) scale(0.9489,1)" x="224.64" y="-13.61" font-size="20.81" font-weight="bold" fill="#1b1b1b">+</text>
</svg>
</body></html>
